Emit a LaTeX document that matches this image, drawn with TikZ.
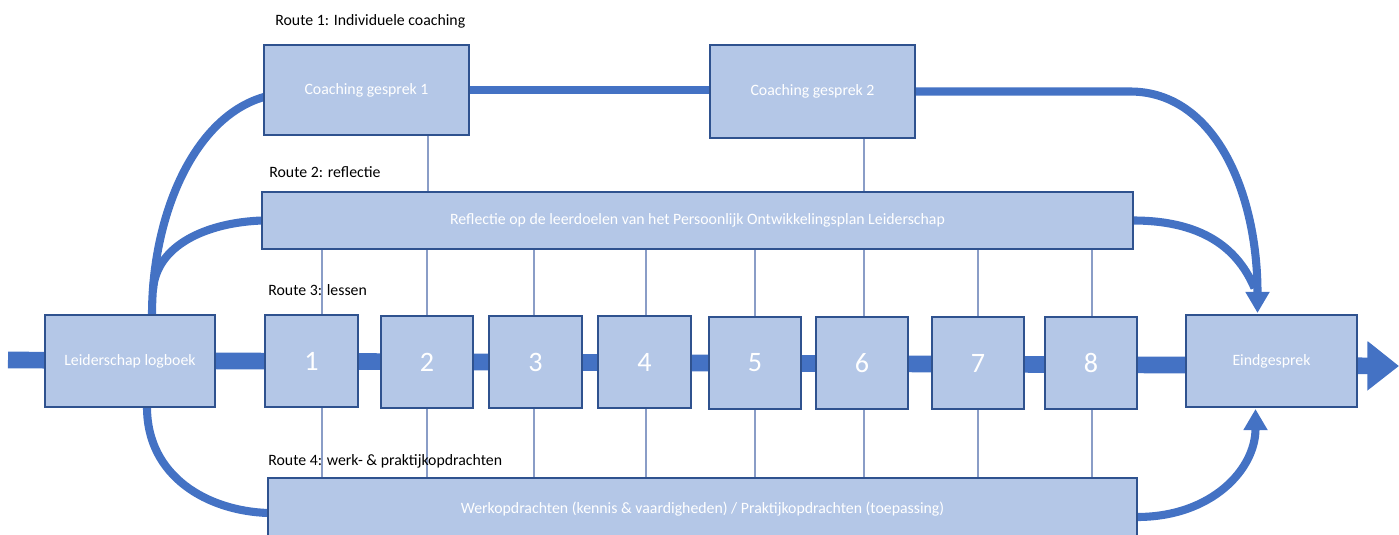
\documentclass[tikz,border=0pt]{standalone}
\usepackage{fontspec}
\setmainfont{Carlito}
\usetikzlibrary{arrows.meta,backgrounds,calc}
\definecolor{boxfill}{HTML}{B4C7E7}
\definecolor{boxedge}{HTML}{2F528F}
\definecolor{flow}{HTML}{4472C4}
\definecolor{thinlink}{HTML}{8A9DC7}
\begin{document}
\begin{tikzpicture}[x=0.02cm,y=-0.02cm,
  box/.style={draw=boxedge, line width=0.8pt, fill=boxfill, inner sep=0pt, outer sep=0pt, text=white, font=\fontsize{9}{11}\selectfont},
  numbox/.style={box, font=\fontsize{16}{18}\selectfont},
  wh/.style 2 args={minimum width={#1*0.02cm}, minimum height={#2*0.02cm}},
  route/.style={anchor=west, inner sep=0pt, font=\fontsize{9}{11}\selectfont},
  flowline/.style={draw=flow, line width=4.6pt},
  link/.style={draw=thinlink, line width=0.6pt},
  curvetip/.style={-{Triangle[length=12pt,width=13pt]}}
]
\useasboundingbox (0,0) rectangle (1399,534);
\clip (0,0) rectangle (1399,534);

% boxes
\node[box, wh={205}{90}] (cg1) at (366.5,90) {Coaching gesprek 1};
\node[box, wh={205}{93}] (cg2) at (812.5,91.5) {Coaching gesprek 2};
\node[box, wh={871}{57}] (refl) at (697.5,220.5) {Reflectie op de leerdoelen van het Persoonlijk Ontwikkelingsplan Leiderschap};
\node[box, wh={170}{92}] (log) at (130,361) {Leiderschap logboek};
\node[numbox, wh={93}{92}] (b1) at (311.5,361) {1};
\node[numbox, wh={92}{92}] (b2) at (427,362) {2};
\node[numbox, wh={93}{92}] (b3) at (535.5,362) {3};
\node[numbox, wh={93}{92}] (b4) at (644.5,362) {4};
\node[numbox, wh={92}{92}] (b5) at (755,363) {5};
\node[numbox, wh={92}{92}] (b6) at (862,363) {6};
\node[numbox, wh={92}{92}] (b7) at (978,363) {7};
\node[numbox, wh={92}{92}] (b8) at (1091,363) {8};
\node[box, wh={171}{92}] (eind) at (1271.5,361) {Eindgesprek};
\node[box, wh={869}{62}] (werk) at (702.5,509) {Werkopdrachten (kennis \& vaardigheden) / Praktijkopdrachten (toepassing)};

% route labels
\node[route] (r1) at (275,21) {Route 1: Individuele coaching};
\node[route] (r2) at (269,172) {Route 2: reflectie};
\node[route] (r3) at (268,290) {Route 3: lessen};
\node[route] (r4) at (268,461) {Route 4: werk- \& praktijkopdrachten};

% free ends
\coordinate (start) at (8,360);
\coordinate (end) at (1399,366);
\coordinate (vc1) at (428,0);
\coordinate (vc2) at (864,0);
\coordinate (v1) at (322,0);
\coordinate (v2) at (427,0);
\coordinate (v3) at (534,0);
\coordinate (v4) at (646,0);
\coordinate (v5) at (755,0);
\coordinate (v6) at (864,0);
\coordinate (v7) at (978,0);
\coordinate (v8) at (1092,0);

\begin{pgfonlayer}{background}
  % main flow
  \draw[draw=flow, line width=9.5pt, -{Triangle[length=18pt,width=27pt]}] (start) -- (end);
  % thin links
  \draw[link] (cg1.south -| vc1) -- (refl.north -| vc1);
  \draw[link] (cg2.south -| vc2) -- (refl.north -| vc2);
  \foreach \n in {1,...,8} {
    \draw[link] (refl.south -| v\n) -- (b\n.north -| v\n);
    \draw[link] (b\n.south -| v\n) -- (werk.north -| v\n);
  }
  % route curves left
  \draw[flowline] ($(log.north)+(22,0)$) .. controls +(0,-100) and +(-70,20) .. ($(cg1.west)+(0,7)$);
  \draw[flowline] ($(log.north)+(23,-25)$) .. controls +(3,-45) and +(-55,2) .. (refl.west);
  \draw[flowline] ($(log.south)+(17,0)$) .. controls +(0,70) and +(-60,-2) .. ($(werk.west)+(0,4)$);
  % route curves right
  \draw[flowline] (cg1.east) -- (cg1.east -| cg2.west);
  \draw[flowline, curvetip] (cg2.east) -- ++(215,0) .. controls +(85,0) and +(0,-120) .. ($(eind.north)+(-14,-2)$);
  \draw[flowline] (refl.east) .. controls +(75,0) and +(-15,-35) .. ($(eind.north)+(-17,-27)$);
  \draw[flowline, curvetip] ($(werk.east)+(0,8)$) .. controls +(75,0) and +(0,60) .. ($(eind.south)+(-16,2)$);
\end{pgfonlayer}
\end{tikzpicture}
\end{document}
